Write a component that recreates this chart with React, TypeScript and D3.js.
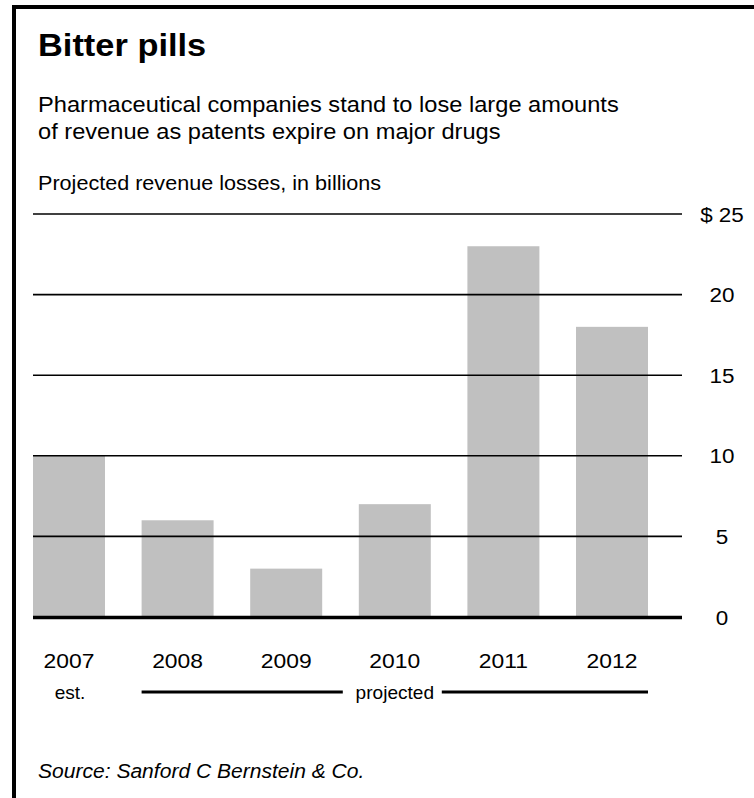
import React from 'react';
import * as d3 from 'd3';

const years = ['2007', '2008', '2009', '2010', '2011', '2012'];
const losses = [10, 6, 3, 7, 23, 18];
const yTicks = [0, 5, 10, 15, 20, 25];

const W = 754;
const H = 798;
const FONT = '"Liberation Sans", Arial, Helvetica, sans-serif';

// the source art is set a little wide, so text gets a horizontal stretch
type TProps = {
  x: number;
  y: number;
  size: number;
  sx?: number;
  anchor?: 'start' | 'middle' | 'end';
  weight?: string;
  italic?: boolean;
  dy?: string;
  children: React.ReactNode;
};

const T: React.FC<TProps> = ({ x, y, size, sx = 1.08, anchor = 'start', weight, italic, dy, children }) => (
  <text
    transform={`translate(${x},${y}) scale(${sx},1)`}
    fontSize={size}
    fontWeight={weight}
    fontStyle={italic ? 'italic' : undefined}
    textAnchor={anchor}
    dy={dy}
    fill="#000"
  >
    {children}
  </text>
);

export default function App() {
  const x = d3
    .scaleBand<string>()
    .domain(years)
    .range([33, 648])
    .paddingInner(0.337)
    .paddingOuter(0);

  const y = d3.scaleLinear().domain([0, 25]).range([617, 214]);

  const gridLeft = 33;
  const gridRight = 682;
  const labelX = 722;

  // "projected" bracket spans 2008..2012
  const projStart = x('2008')!;
  const projEnd = x('2012')! + x.bandwidth();
  const projMid = (projStart + projEnd) / 2;

  return (
    <svg
      width={W}
      height={H}
      style={{ position: 'absolute', left: 0, top: 0, background: '#fff' }}
      fontFamily={FONT}
    >
      <rect x={0} y={0} width={W} height={H} fill="#fff" />
      {/* frame */}
      <line x1={12} x2={W} y1={7} y2={7} stroke="#000" strokeWidth={4} />
      <line x1={14} x2={14} y1={5} y2={H} stroke="#000" strokeWidth={4} />

      {/* headings */}
      <T x={38} y={56} size={32} sx={1.075} weight="bold">
        Bitter pills
      </T>
      <T x={38} y={112} size={22} sx={1.075}>
        Pharmaceutical companies stand to lose large amounts
      </T>
      <T x={38} y={139} size={22} sx={1.075}>
        of revenue as patents expire on major drugs
      </T>
      <T x={38} y={190} size={20} sx={1.08}>
        Projected revenue losses, in billions
      </T>

      {/* bars */}
      {years.map((yr, i) => (
        <rect
          key={yr}
          x={x(yr)}
          y={y(losses[i])}
          width={x.bandwidth()}
          height={y(0) - y(losses[i])}
          fill="#c0c0c0"
        />
      ))}

      {/* gridlines + labels */}
      {yTicks.map(t => (
        <g key={t}>
          {t !== 0 && (
            <line
              x1={gridLeft}
              x2={gridRight}
              y1={y(t)}
              y2={y(t)}
              stroke="#000"
              strokeWidth={1.6}
            />
          )}
          <T x={labelX} y={y(t)} dy="0.36em" size={21} sx={1.07} anchor="middle">
            {t === 25 ? `$ ${t}` : t}
          </T>
        </g>
      ))}
      <line x1={gridLeft} x2={gridRight} y1={y(0) + 0.5} y2={y(0) + 0.5} stroke="#000" strokeWidth={3.5} />

      {/* year labels */}
      {years.map(yr => (
        <T key={yr} x={x(yr)! + x.bandwidth() / 2} y={668} size={21} sx={1.09} anchor="middle">
          {yr}
        </T>
      ))}

      <T x={x('2007')! + x.bandwidth() / 2 + 1} y={699} size={18} sx={1.06} anchor="middle">
        est.
      </T>
      <line x1={projStart} x2={projMid - 52} y1={692} y2={692} stroke="#000" strokeWidth={3} />
      <line x1={projMid + 47} x2={projEnd} y1={692} y2={692} stroke="#000" strokeWidth={3} />
      <T x={projMid} y={699} size={18} sx={1.06} anchor="middle">
        projected
      </T>

      <T x={38} y={778} size={19.5} sx={1.08} italic>
        Source: Sanford C Bernstein &amp; Co.
      </T>
    </svg>
  );
}
